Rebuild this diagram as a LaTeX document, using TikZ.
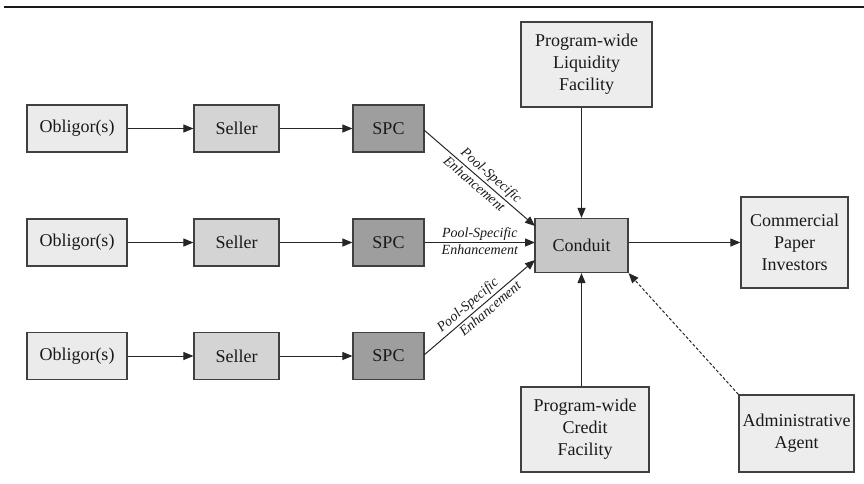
\documentclass[tikz,border=0pt]{standalone}
\usepackage{fontspec}
\setmainfont{Liberation Serif}
\usetikzlibrary{arrows.meta,calc}
\begin{document}
\begin{tikzpicture}[x=1pt,y=-1pt,
  box/.style={draw=black!75,line width=1.2pt,inner sep=0pt,align=center,
    font=\fontsize{18}{22}\selectfont,text=black!90},
  conn/.style={draw=black!85,line width=1pt,-{Triangle[length=10pt,width=8pt]}},
  lab/.style={font=\fontsize{14}{16}\selectfont\itshape,text=black!90,inner sep=2pt},
]
\useasboundingbox (0,0) rectangle (864,483);
\draw[line width=2.6pt,black!90] (4,7) -- (864,7);
% rows
\foreach \r/\y in {1/128.5,2/242.5,3/356}{
  \node[box,fill=black!8,minimum width=100pt,minimum height=47pt] (ob\r) at (77,\y) {Obligor(s)};
  \node[box,fill=black!17,minimum width=85pt,minimum height=47pt] (se\r) at (236.5,\y) {Seller};
  \node[box,fill=black!38,minimum width=71pt,minimum height=47pt] (spc\r) at (388.5,\y) {SPC};
  \draw[conn] (ob\r) -- (se\r);
  \draw[conn] (se\r) -- (spc\r);
}
\node[box,fill=black!22,minimum width=93pt,minimum height=54pt] (con) at (581.5,245.5) {Conduit};
\node[box,fill=black!7,minimum width=131pt,minimum height=85pt] (liq) at (586.5,64.5) {Program-wide\\Liquidity\\Facility};
\node[box,fill=black!7,minimum width=107pt,minimum height=91pt] (cpi) at (794.5,242.5) {Commercial\\Paper\\Investors};
\node[box,fill=black!7,minimum width=128pt,minimum height=85pt] (cred) at (585,429.5) {Program-wide\\Credit\\Facility};
\node[box,fill=black!7,minimum width=115pt,minimum height=77pt] (adm) at (796.5,433.5) {Administrative\\Agent};
\coordinate (c1) at (535,226);
\coordinate (c2) at (535,242.5);
\coordinate (c3) at (535,260);
\coordinate (s1) at (424,130);
\coordinate (s3) at (424,355);
\draw[conn] (s1) -- node[lab,sloped,above,pos=0.55]{Pool-Specific} node[lab,sloped,below,pos=0.5]{Enhancement} (c1);
\draw[conn] (spc2.east) -- node[lab,above]{Pool-Specific} node[lab,below]{Enhancement} (c2);
\draw[conn] (s3) -- node[lab,sloped,above,pos=0.45]{Pool-Specific} node[lab,sloped,below,pos=0.55]{Enhancement} (c3);
\draw[conn] (liq.south -| con.north) -- (con.north);
\draw[conn] (cred.north -| con.south) -- (con.south);
\draw[conn] (con.east |- cpi.west) -- (cpi.west);
\draw[conn,dashed,dash pattern=on 3pt off 2pt] (adm.north west) -- (con.south east);
\end{tikzpicture}
\end{document}
